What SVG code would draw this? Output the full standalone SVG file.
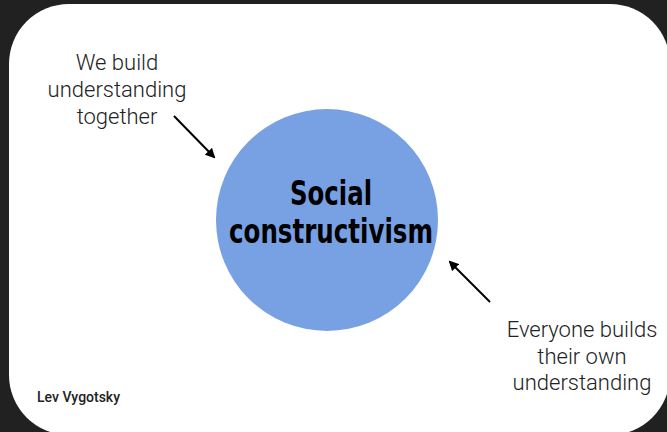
<svg xmlns="http://www.w3.org/2000/svg" width="667" height="432" viewBox="0 0 667 432">
  <defs>
    <marker id="ah" markerWidth="10" markerHeight="10" refX="8" refY="5" orient="auto" markerUnits="userSpaceOnUse" viewBox="0 0 10 10">
      <path d="M0,0 L10,5 L0,10 z" fill="#000"/>
    </marker>
    <style>
      .lbl { font-family: Roboto, "Liberation Sans", sans-serif; font-size: 22px; font-weight: 300; fill: #222; text-anchor: middle; }
      .title { font-family: "DejaVu Sans", "Liberation Sans", sans-serif; font-stretch: condensed; font-weight: bold; font-size: 33px; fill: #000; text-anchor: middle; }
      .conn { stroke: #000; stroke-width: 2; fill: none; }
    </style>
  </defs>
  <rect x="0" y="0" width="667" height="432" fill="#212121"/>
  <rect x="9" y="4" width="661" height="431" rx="60" ry="60" fill="#ffffff"/>
  <g id="center">
    <circle cx="327" cy="220" r="111" fill="#78a1e4"/>
    <text class="title" x="331" y="205" textLength="82" lengthAdjust="spacingAndGlyphs">Social</text>
    <text class="title" x="331" y="243" textLength="204" lengthAdjust="spacingAndGlyphs">constructivism</text>
  </g>
  <g id="label-together">
    <text class="lbl" x="117" y="70">We build</text>
    <text class="lbl" x="117" y="97">understanding</text>
    <text class="lbl" x="117" y="124">together</text>
  </g>
  <g id="label-own">
    <text class="lbl" x="582" y="337">Everyone builds</text>
    <text class="lbl" x="582" y="364">their own</text>
    <text class="lbl" x="582" y="390">understanding</text>
  </g>
  <g id="author">
    <text x="37" y="402" font-family="Roboto, 'Liberation Sans', sans-serif" font-size="14" font-weight="500" fill="#222">Lev Vygotsky</text>
  </g>
  <g id="connectors">
    <line class="conn" x1="174" y1="116" x2="214" y2="157" marker-end="url(#ah)"/>
    <line class="conn" x1="490" y1="302" x2="450" y2="262" marker-end="url(#ah)"/>
  </g>
</svg>
